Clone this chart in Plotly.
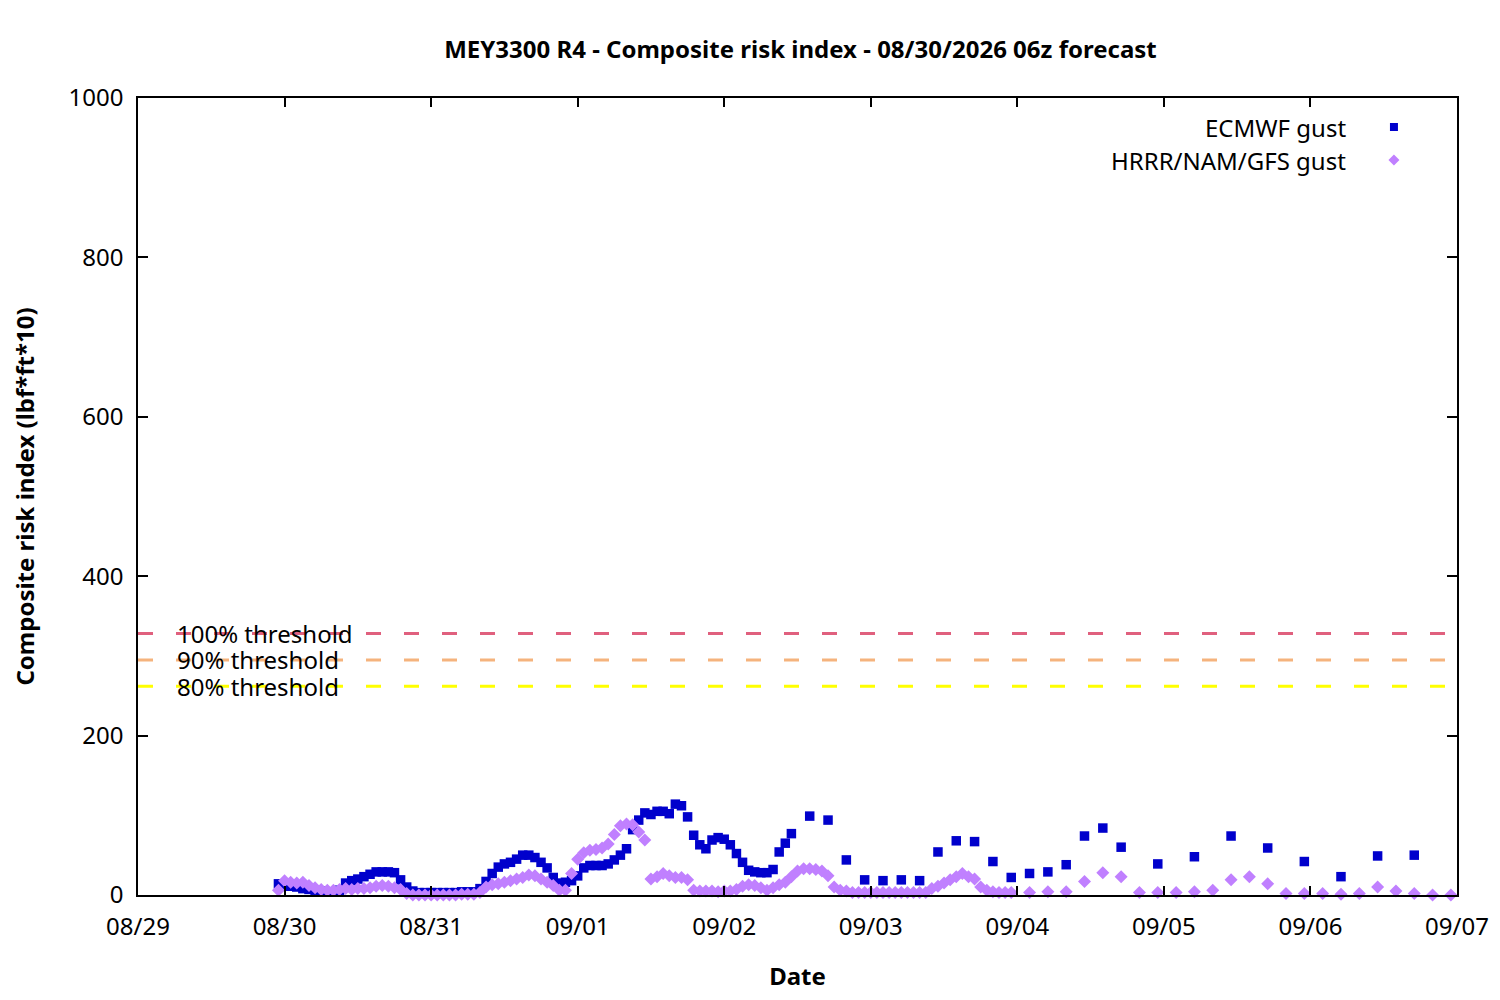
import pandas as pd
import plotly.graph_objects as go

# forecast start (hours are counted from this date)
base = pd.Timestamp("2026-08-29 00:00")

# ECMWF gust: hourly, then every 3 h, then every 6 h
ecmwf_hours = list(range(23, 108)) + list(range(110, 162, 3)) + list(range(167, 210, 6))
ecmwf_vals = [
    14, 13, 11, 10, 8, 7, 6, 5, 4, 4,
    6, 15, 18, 20, 23, 26, 29, 29, 29, 28,
    19, 10, 5, 3, 3, 3, 3, 3, 3, 3,
    4, 4, 4, 8, 17, 27, 35, 39, 41, 45,
    50, 50, 47, 41, 34, 22, 15, 16, 18, 24,
    34, 37, 37, 37, 39, 44, 50, 58, 82, 94,
    103, 101, 105, 105, 102, 114, 112, 98, 75, 63,
    58, 69, 72, 70, 63, 52, 41, 31, 29, 28,
    28, 32, 54, 65, 77,
    # 3-hourly
    99, 94, 44, 19, 18, 19, 18, 54, 68, 67,
    42, 22, 27, 29, 38, 74, 84, 60,
    # 6-hourly
    39, 48, 74, 59, 42, 23, 49, 50,
]

# HRRR/NAM/GFS gust: hourly, then every 3 h
hrrr_hours = list(range(23, 144)) + list(range(146, 216, 3))
hrrr_vals = [
    6, 18, 16, 15, 16, 12, 9, 7, 6, 6,
    7, 8, 7, 8, 8, 9, 11, 12, 11, 9,
    7, 2, 0, 0, 0, 0, 0, 0, 0, 0,
    1, 1, 1, 3, 10, 13, 14, 16, 18, 20,
    22, 25, 24, 20, 16, 12, 6, 6, 27, 45,
    53, 56, 57, 59, 64, 76, 87, 89, 88, 79,
    69, 20, 23, 27, 24, 22, 22, 19, 6, 5,
    5, 5, 4, 5, 5, 7, 11, 13, 12, 9,
    6, 9, 13, 16, 23, 30, 33, 33, 32, 30,
    24, 10, 6, 5, 3, 3, 3, 3, 3, 3,
    3, 3, 3, 3, 3, 3, 3, 8, 11, 15,
    19, 23, 27, 23, 20, 10, 6, 4, 3, 3,
    3,
    # 3-hourly
    3, 4, 4, 17, 28, 23, 3, 3, 3, 4,
    6, 19, 23, 14, 2, 2, 2, 1, 2, 10,
    5, 2, 0, 0,
]

threshold_vals = [328, 295, 262]
threshold_names = ["100% threshold", "90% threshold", "80% threshold"]
threshold_colors = ["#e0607e", "#f5b37d", "#ffff00"]

day_labels = ["08/29", "08/30", "08/31", "09/01", "09/02", "09/03", "09/04", "09/05", "09/06", "09/07"]
y_ticks = [0, 200, 400, 600, 800, 1000]

ecmwf_x = base + pd.to_timedelta(ecmwf_hours, unit="h")
hrrr_x = base + pd.to_timedelta(hrrr_hours, unit="h")
day_x = [base + pd.Timedelta(days=i) for i in range(len(day_labels))]

FONT = "Noto Sans"

fig = go.Figure()

fig.add_trace(go.Scatter(x=ecmwf_x, y=ecmwf_vals, mode="markers", name="ECMWF gust",
                         marker=dict(symbol="square", size=9.5, color="#0000cc"),
                         cliponaxis=False, showlegend=False))
fig.add_trace(go.Scatter(x=hrrr_x, y=hrrr_vals, mode="markers", name="HRRR/NAM/GFS gust",
                         marker=dict(symbol="diamond", size=10, color="#c080ff"),
                         cliponaxis=False, showlegend=False))

# threshold lines with labels at the left
for val, name, col in zip(threshold_vals, threshold_names, threshold_colors):
    fig.add_hline(y=val, line=dict(color=col, width=3, dash="15px,23px"), layer="below")
    fig.add_annotation(x=0.028, y=val, xref="paper", yref="y", text=name, showarrow=False,
                       xanchor="left", yanchor="middle", font=dict(family=FONT, size=24, color="black"))

# gnuplot-like key: text on the left, symbol on the right
fig.add_annotation(x=0.917, y=0.9636, xref="paper", yref="paper", text="ECMWF gust", showarrow=False,
                   xanchor="right", yanchor="middle", font=dict(family=FONT, size=24, color="black"))
fig.add_annotation(x=0.917, y=0.9222, xref="paper", yref="paper", text="HRRR/NAM/GFS gust", showarrow=False,
                   xanchor="right", yanchor="middle", font=dict(family=FONT, size=24, color="black"))
fig.add_shape(type="rect", xref="paper", yref="paper", xsizemode="pixel", ysizemode="pixel",
              xanchor=0.9522, yanchor=0.9636, x0=-4, x1=4, y0=-4, y1=4,
              fillcolor="#0000cc", line_width=0)
fig.add_shape(type="path", xref="paper", yref="paper", xsizemode="pixel", ysizemode="pixel",
              xanchor=0.9522, yanchor=0.9222, path="M -5.5 0 L 0 5.5 L 5.5 0 L 0 -5.5 Z",
              fillcolor="#c080ff", line_width=0)

# page body adds ~8px offset, so the figure is a bit smaller than the window
fig.update_layout(
    width=1484, height=984,
    margin=dict(l=130, r=35, t=90, b=97),
    paper_bgcolor="white", plot_bgcolor="white",
    font=dict(family=FONT, size=24, color="black"),
    title=dict(text="<b>MEY3300 R4 - Composite risk index - 08/30/2026 06z forecast</b>",
               x=0.534, xanchor="center", y=0.958, yanchor="middle",
               font=dict(family=FONT, size=24, color="black")),
)

fig.update_xaxes(
    range=[day_x[0], day_x[-1]], tickvals=day_x, ticktext=day_labels,
    ticks="inside", ticklen=9, tickwidth=1.5, tickcolor="black",
    showline=True, linecolor="black", linewidth=1.5, mirror="ticks",
    showgrid=False, zeroline=False, ticklabelstandoff=9, automargin=False,
    title=dict(text="<b>Date</b>", font=dict(family=FONT, size=24), standoff=28),
)
fig.update_yaxes(
    range=[0, 1000], tickvals=y_ticks,
    ticks="inside", ticklen=10, tickwidth=1.5, tickcolor="black",
    showline=True, linecolor="black", linewidth=1.5, mirror="ticks",
    showgrid=False, zeroline=False, ticklabelstandoff=8, automargin=False,
    title=dict(text="<b>Composite risk index (lbf*ft*10)</b>", font=dict(family=FONT, size=24), standoff=30),
)

fig.write_html("out.html")
